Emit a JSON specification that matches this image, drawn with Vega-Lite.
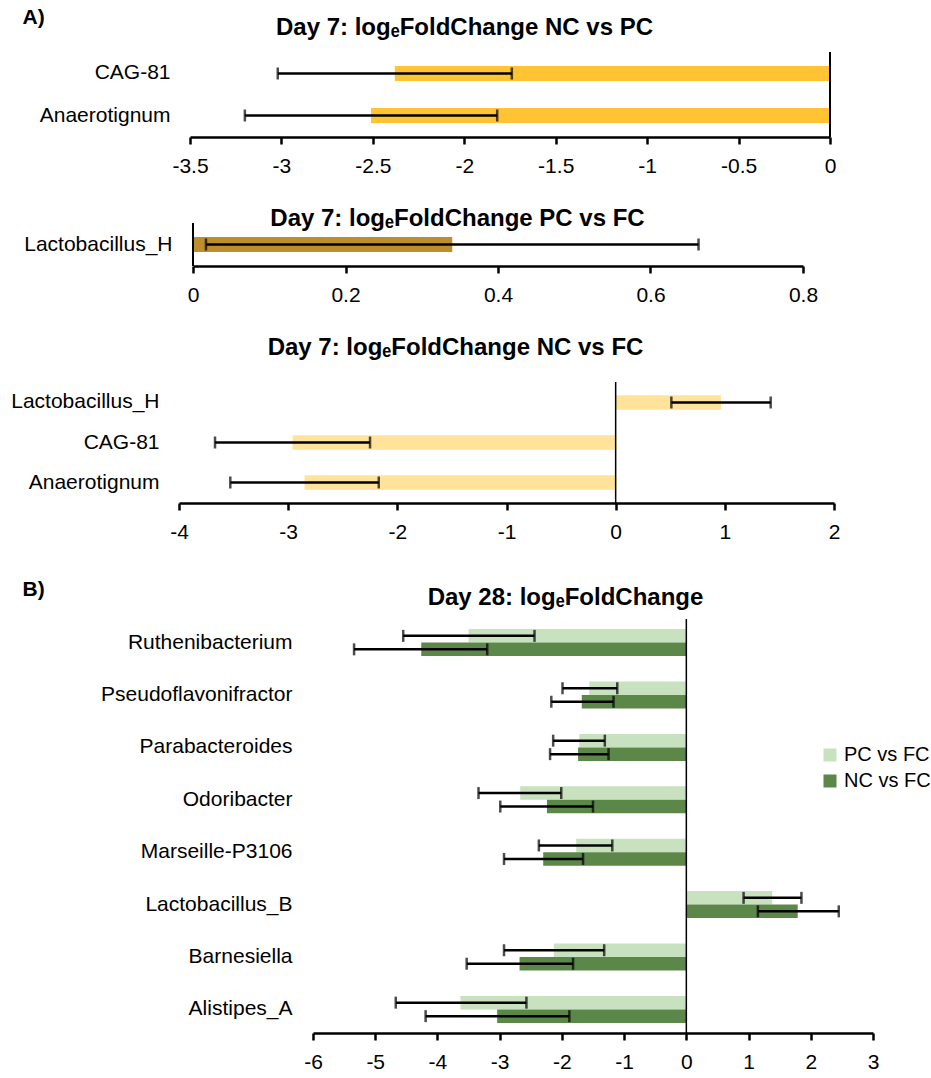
{
  "$schema": "https://vega.github.io/schema/vega-lite/v6.json",
  "padding": {"top": 6, "left": 0, "right": 0, "bottom": 0},
  "config": {
    "font": "Liberation Sans",
    "view": {"stroke": null},
    "axisX": {"domainColor": "black", "domainWidth": 2.5, "tickColor": "black", "tickWidth": 2.5, "tickSize": 7, "labelFontSize": 21, "labelPadding": 11, "grid": false, "labelFlush": false, "labelOverlap": false, "labelColor": "black", "labelFont": "Liberation Sans"},
    "axisY": {"domain": false, "ticks": false, "grid": false, "labelFontSize": 21, "labelLimit": 0, "labelColor": "black", "labelFont": "Liberation Sans", "titleAngle": 0, "titleAlign": "left", "titleBaseline": "middle", "titleFontSize": 21, "titleFontWeight": "bold", "titleColor": "black", "titleFont": "Liberation Sans"},
    "title": {"color": "black", "font": "Liberation Sans", "fontSize": 24, "fontWeight": "bold", "frame": "group", "anchor": "middle"},
    "legend": {"labelColor": "black", "labelFont": "Liberation Sans"}
  },
  "resolve": {"legend": {"color": "independent"}},
  "datasets": {
    "a1": [
      {"taxon": "CAG-81", "lfc": -2.38, "lo": -3.02, "hi": -1.74},
      {"taxon": "Anaerotignum", "lfc": -2.51, "lo": -3.2, "hi": -1.82}
    ],
    "a2": [
      {"taxon": "Lactobacillus_H", "lfc": 0.34, "lo": 0.017, "hi": 0.663}
    ],
    "a3": [
      {"taxon": "Lactobacillus_H", "lfc": 0.965, "lo": 0.51, "hi": 1.42},
      {"taxon": "CAG-81", "lfc": -2.96, "lo": -3.67, "hi": -2.25},
      {"taxon": "Anaerotignum", "lfc": -2.85, "lo": -3.53, "hi": -2.17}
    ],
    "b": [
      {"taxon": "Ruthenibacterium", "comp": "PC vs FC", "lfc": -3.5, "lo": -4.55, "hi": -2.44},
      {"taxon": "Ruthenibacterium", "comp": "NC vs FC", "lfc": -4.26, "lo": -5.34, "hi": -3.2},
      {"taxon": "Pseudoflavonifractor", "comp": "PC vs FC", "lfc": -1.56, "lo": -1.99, "hi": -1.11},
      {"taxon": "Pseudoflavonifractor", "comp": "NC vs FC", "lfc": -1.68, "lo": -2.17, "hi": -1.17},
      {"taxon": "Parabacteroides", "comp": "PC vs FC", "lfc": -1.72, "lo": -2.14, "hi": -1.31},
      {"taxon": "Parabacteroides", "comp": "NC vs FC", "lfc": -1.74, "lo": -2.19, "hi": -1.25},
      {"taxon": "Odoribacter", "comp": "PC vs FC", "lfc": -2.67, "lo": -3.34, "hi": -2.01},
      {"taxon": "Odoribacter", "comp": "NC vs FC", "lfc": -2.24, "lo": -2.99, "hi": -1.5},
      {"taxon": "Marseille-P3106", "comp": "PC vs FC", "lfc": -1.77, "lo": -2.37, "hi": -1.19},
      {"taxon": "Marseille-P3106", "comp": "NC vs FC", "lfc": -2.3, "lo": -2.93, "hi": -1.66},
      {"taxon": "Lactobacillus_B", "comp": "PC vs FC", "lfc": 1.38, "lo": 0.92, "hi": 1.85},
      {"taxon": "Lactobacillus_B", "comp": "NC vs FC", "lfc": 1.79, "lo": 1.15, "hi": 2.45},
      {"taxon": "Barnesiella", "comp": "PC vs FC", "lfc": -2.13, "lo": -2.93, "hi": -1.32},
      {"taxon": "Barnesiella", "comp": "NC vs FC", "lfc": -2.68, "lo": -3.53, "hi": -1.82},
      {"taxon": "Alistipes_A", "comp": "PC vs FC", "lfc": -3.63, "lo": -4.67, "hi": -2.57},
      {"taxon": "Alistipes_A", "comp": "NC vs FC", "lfc": -3.04, "lo": -4.19, "hi": -1.88}
    ],
    "zero": [{"zero": 0}]
  },
  "vconcat": [
    {
      "vconcat": [
        {
          "width": 931,
          "height": 85,
          "title": {"text": "Day 7: logₑFoldChange NC vs PC", "offset": -34, "dx": -1},
          "layer": [
            {
              "data": {"name": "a1"},
              "mark": {"type": "bar", "color": "#FFC334"},
              "encoding": {
                "y": {"field": "taxon", "type": "nominal", "sort": ["CAG-81", "Anaerotignum"], "scale": {"paddingInner": 0.643, "paddingOuter": 0.333}, "axis": {"title": "A)", "offset": -190, "labelPadding": 20, "titleX": -168, "titleY": -35}},
                "x": {"field": "lfc", "type": "quantitative", "scale": {"domain": [-3.5, 0], "range": [190, 830], "nice": false}, "axis": {"title": null, "values": [-3.5, -3, -2.5, -2, -1.5, -1, -0.5, 0], "labelExpr": "'' + datum.value"}}
              }
            },
            {
              "data": {"name": "a1"},
              "mark": {"type": "rule", "color": "black", "strokeWidth": 2.5},
              "encoding": {
                "y": {"field": "taxon", "type": "nominal", "sort": ["CAG-81", "Anaerotignum"]},
                "x": {"field": "lo", "type": "quantitative"},
                "x2": {"field": "hi"}
              }
            },
            {
              "data": {"name": "a1"},
              "mark": {"type": "tick", "color": "black", "thickness": 2.5, "size": 12},
              "encoding": {
                "y": {"field": "taxon", "type": "nominal", "sort": ["CAG-81", "Anaerotignum"]},
                "x": {"field": "lo", "type": "quantitative"}
              }
            },
            {
              "data": {"name": "a1"},
              "mark": {"type": "tick", "color": "black", "thickness": 2.5, "size": 12},
              "encoding": {
                "y": {"field": "taxon", "type": "nominal", "sort": ["CAG-81", "Anaerotignum"]},
                "x": {"field": "hi", "type": "quantitative"}
              }
            },
            {
              "data": {"name": "zero"},
              "mark": {"type": "rule", "color": "black", "strokeWidth": 2},
              "encoding": {"x": {"field": "zero", "type": "quantitative"}}
            }
          ]
        },
        {
          "width": 931,
          "height": 43,
          "title": {"text": "Day 7: logₑFoldChange PC vs FC", "offset": -9, "dx": -8},
          "layer": [
            {
              "data": {"name": "a2"},
              "mark": {"type": "bar", "color": "#BC8E2D"},
              "encoding": {
                "y": {"field": "taxon", "type": "nominal", "scale": {"paddingInner": 0.483, "paddingOuter": 0.483}, "axis": {"title": null, "offset": -193, "labelPadding": 21}},
                "x": {"field": "lfc", "type": "quantitative", "scale": {"domain": [0, 0.8], "range": [193, 803], "nice": false}, "axis": {"title": null, "values": [0, 0.2, 0.4, 0.6, 0.8], "labelExpr": "'' + datum.value"}}
              }
            },
            {
              "data": {"name": "a2"},
              "mark": {"type": "rule", "color": "black", "strokeWidth": 2.5},
              "encoding": {
                "y": {"field": "taxon", "type": "nominal"},
                "x": {"field": "lo", "type": "quantitative"},
                "x2": {"field": "hi"}
              }
            },
            {
              "data": {"name": "a2"},
              "mark": {"type": "tick", "color": "black", "thickness": 2.5, "size": 12},
              "encoding": {
                "y": {"field": "taxon", "type": "nominal"},
                "x": {"field": "lo", "type": "quantitative"}
              }
            },
            {
              "data": {"name": "a2"},
              "mark": {"type": "tick", "color": "black", "thickness": 2.5, "size": 12},
              "encoding": {
                "y": {"field": "taxon", "type": "nominal"},
                "x": {"field": "hi", "type": "quantitative"}
              }
            },
            {
              "data": {"name": "zero"},
              "mark": {"type": "rule", "color": "black", "strokeWidth": 2},
              "encoding": {"x": {"field": "zero", "type": "quantitative"}}
            }
          ]
        },
        {
          "width": 931,
          "height": 121,
          "title": {"text": "Day 7: logₑFoldChange NC vs FC", "offset": 21, "dx": -10},
          "layer": [
            {
              "data": {"name": "a3"},
              "mark": {"type": "bar", "color": "#FFE39A"},
              "encoding": {
                "y": {"field": "taxon", "type": "nominal", "sort": ["Lactobacillus_H", "CAG-81", "Anaerotignum"], "scale": {"paddingInner": 0.6375, "paddingOuter": 0.331}, "axis": {"title": null, "offset": -179, "labelPadding": 20}},
                "x": {"field": "lfc", "type": "quantitative", "scale": {"domain": [-4, 2], "range": [179, 834], "nice": false}, "axis": {"title": null, "values": [-4, -3, -2, -1, 0, 1, 2], "labelExpr": "'' + datum.value"}}
              }
            },
            {
              "data": {"name": "a3"},
              "mark": {"type": "rule", "color": "black", "strokeWidth": 2.5},
              "encoding": {
                "y": {"field": "taxon", "type": "nominal", "sort": ["Lactobacillus_H", "CAG-81", "Anaerotignum"]},
                "x": {"field": "lo", "type": "quantitative"},
                "x2": {"field": "hi"}
              }
            },
            {
              "data": {"name": "a3"},
              "mark": {"type": "tick", "color": "black", "thickness": 2.5, "size": 12},
              "encoding": {
                "y": {"field": "taxon", "type": "nominal", "sort": ["Lactobacillus_H", "CAG-81", "Anaerotignum"]},
                "x": {"field": "lo", "type": "quantitative"}
              }
            },
            {
              "data": {"name": "a3"},
              "mark": {"type": "tick", "color": "black", "thickness": 2.5, "size": 12},
              "encoding": {
                "y": {"field": "taxon", "type": "nominal", "sort": ["Lactobacillus_H", "CAG-81", "Anaerotignum"]},
                "x": {"field": "hi", "type": "quantitative"}
              }
            },
            {
              "data": {"name": "zero"},
              "mark": {"type": "rule", "color": "black", "strokeWidth": 1.5},
              "encoding": {"x": {"field": "zero", "type": "quantitative"}}
            }
          ]
        }
      ],
      "spacing": 31
    },
    {
      "width": 931,
      "height": 414,
      "title": {"text": "Day 28: logₑFoldChange", "offset": -32, "dx": 100},
      "layer": [
        {
          "data": {"name": "b"},
          "mark": {"type": "bar"},
          "encoding": {
            "y": {"field": "taxon", "type": "nominal", "sort": ["Ruthenibacterium", "Pseudoflavonifractor", "Parabacteroides", "Odoribacter", "Marseille-P3106", "Lactobacillus_B", "Barnesiella", "Alistipes_A"], "scale": {"paddingInner": 0.485, "paddingOuter": 0.193}, "axis": {"title": "B)", "offset": -313, "labelPadding": 21, "titleX": -291, "titleY": -30}},
            "yOffset": {"field": "comp", "type": "nominal", "scale": {"domain": ["PC vs FC", "NC vs FC"], "paddingInner": 0, "paddingOuter": 0}},
            "x": {"field": "lfc", "type": "quantitative", "scale": {"domain": [-6, 3], "range": [313, 873], "nice": false}, "axis": {"title": null, "values": [-6, -5, -4, -3, -2, -1, 0, 1, 2, 3], "labelExpr": "'' + datum.value"}},
            "color": {"field": "comp", "type": "nominal", "scale": {"domain": ["PC vs FC", "NC vs FC"], "range": ["#C8E1BF", "#5B8749"]}, "legend": {"title": null, "orient": "none", "legendX": 820, "legendY": 126, "symbolType": "square", "symbolSize": 169, "symbolStrokeWidth": 0, "labelFontSize": 20, "labelOffset": 4, "rowPadding": 6, "padding": 0}}
          }
        },
        {
          "data": {"name": "b"},
          "mark": {"type": "rule", "color": "black", "strokeWidth": 2.5},
          "encoding": {
            "y": {"field": "taxon", "type": "nominal", "sort": ["Ruthenibacterium", "Pseudoflavonifractor", "Parabacteroides", "Odoribacter", "Marseille-P3106", "Lactobacillus_B", "Barnesiella", "Alistipes_A"]},
            "yOffset": {"field": "comp", "type": "nominal"},
            "x": {"field": "lo", "type": "quantitative"},
            "x2": {"field": "hi"}
          }
        },
        {
          "data": {"name": "b"},
          "mark": {"type": "tick", "color": "black", "thickness": 2.5, "size": 12},
          "encoding": {
            "y": {"field": "taxon", "type": "nominal", "sort": ["Ruthenibacterium", "Pseudoflavonifractor", "Parabacteroides", "Odoribacter", "Marseille-P3106", "Lactobacillus_B", "Barnesiella", "Alistipes_A"]},
            "yOffset": {"field": "comp", "type": "nominal"},
            "x": {"field": "lo", "type": "quantitative"}
          }
        },
        {
          "data": {"name": "b"},
          "mark": {"type": "tick", "color": "black", "thickness": 2.5, "size": 12},
          "encoding": {
            "y": {"field": "taxon", "type": "nominal", "sort": ["Ruthenibacterium", "Pseudoflavonifractor", "Parabacteroides", "Odoribacter", "Marseille-P3106", "Lactobacillus_B", "Barnesiella", "Alistipes_A"]},
            "yOffset": {"field": "comp", "type": "nominal"},
            "x": {"field": "hi", "type": "quantitative"}
          }
        },
        {
          "data": {"name": "zero"},
          "mark": {"type": "rule", "color": "black", "strokeWidth": 1.5},
          "encoding": {"x": {"field": "zero", "type": "quantitative"}}
        }
      ]
    }
  ],
  "spacing": 36
}
